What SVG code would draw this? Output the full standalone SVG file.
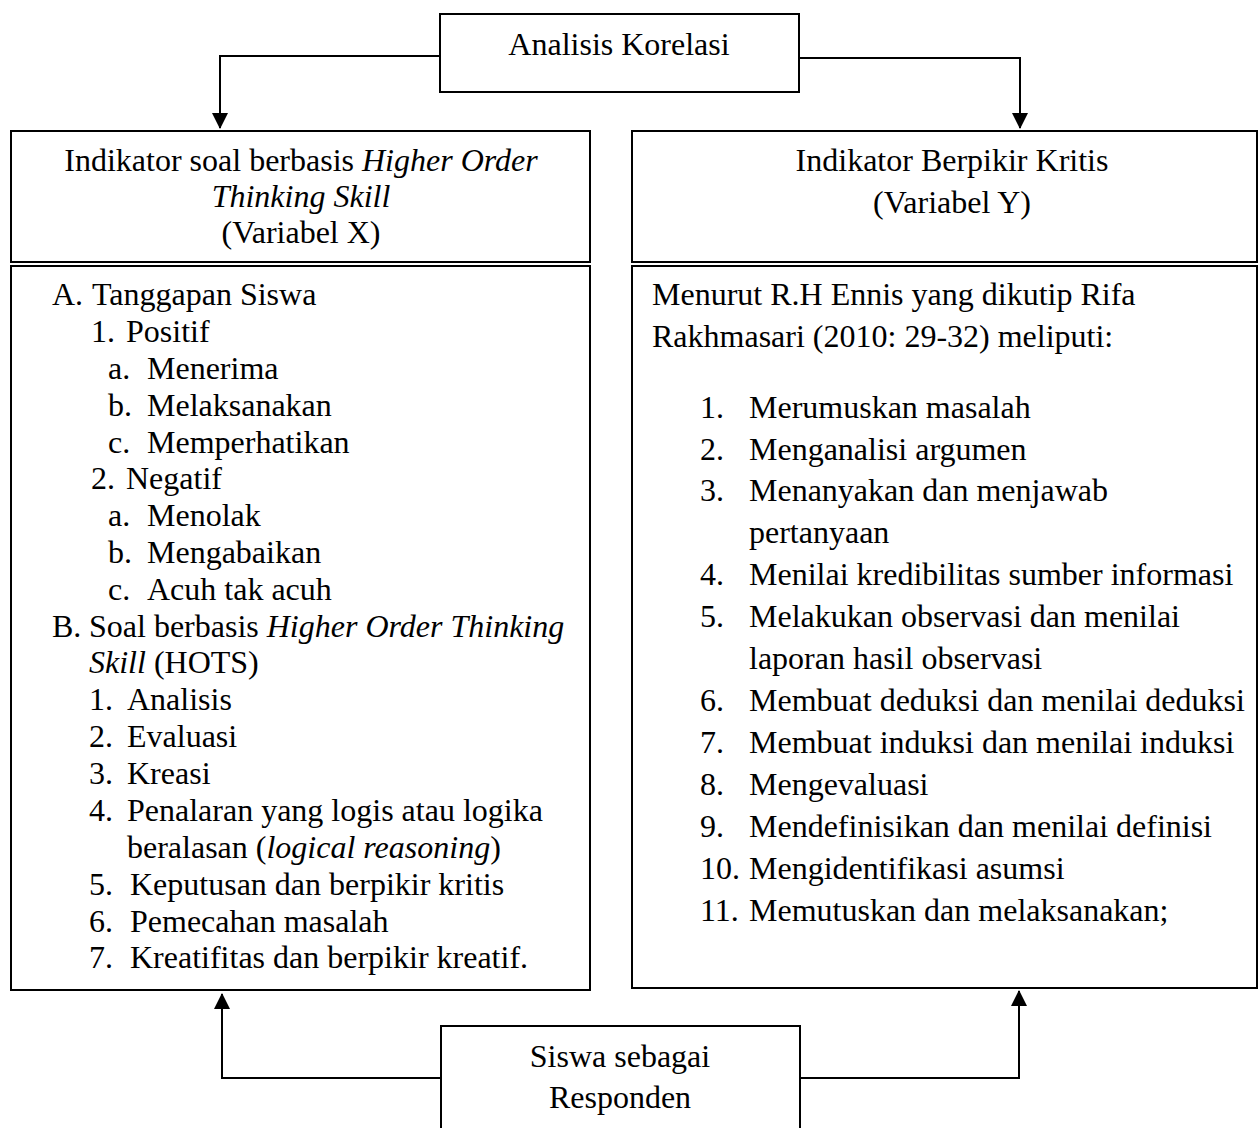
<svg xmlns="http://www.w3.org/2000/svg" width="1258" height="1128" viewBox="0 0 1258 1128">
<defs>
<style>
.box{fill:#fff;stroke:#000;stroke-width:2}
.t{font-family:"Liberation Serif","Times New Roman",serif;font-size:32px;fill:#000}
.c{text-anchor:middle}
.i{font-style:italic}
.con{fill:none;stroke:#000;stroke-width:2}
</style>
<marker id="ah" viewBox="0 0 16 16" refX="15" refY="8" markerWidth="16" markerHeight="16" markerUnits="userSpaceOnUse" orient="auto">
<path d="M0,0 L16,8 L0,16 Z" fill="#000"/>
</marker>
</defs>
<rect width="1258" height="1128" fill="#fff"/>

<g id="connectors">
<path class="con" d="M440,56 H220 V128" marker-end="url(#ah)"/>
<path class="con" d="M799,58 H1020 V128" marker-end="url(#ah)"/>
<path class="con" d="M441,1078 H222 V994" marker-end="url(#ah)"/>
<path class="con" d="M800,1078 H1019 V991" marker-end="url(#ah)"/>
</g>

<g id="analisis">
<rect class="box" x="440" y="14" width="359" height="78"/>
<text class="t c" x="619" y="55">Analisis Korelasi</text>
</g>

<g id="header-x">
<rect class="box" x="11" y="131" width="579" height="131"/>
<text class="t c" x="301" y="171">Indikator soal berbasis <tspan class="i">Higher Order</tspan></text>
<text class="t c i" x="301" y="207">Thinking Skill</text>
<text class="t c" x="301" y="243">(Variabel X)</text>
</g>

<g id="list-x">
<rect class="box" x="11" y="266" width="579" height="724"/>
<text class="t" x="52" y="305">A.</text><text class="t" x="92" y="305">Tanggapan Siswa</text>
<text class="t" x="91" y="342">1.</text><text class="t" x="126" y="342">Positif</text>
<text class="t" x="108" y="379">a.</text><text class="t" x="147" y="379">Menerima</text>
<text class="t" x="108" y="416">b.</text><text class="t" x="147" y="416">Melaksanakan</text>
<text class="t" x="108" y="453">c.</text><text class="t" x="147" y="453">Memperhatikan</text>
<text class="t" x="91" y="489">2.</text><text class="t" x="126" y="489">Negatif</text>
<text class="t" x="108" y="526">a.</text><text class="t" x="147" y="526">Menolak</text>
<text class="t" x="108" y="563">b.</text><text class="t" x="147" y="563">Mengabaikan</text>
<text class="t" x="108" y="600">c.</text><text class="t" x="147" y="600">Acuh tak acuh</text>
<text class="t" x="52" y="637">B.</text><text class="t" x="89" y="637">Soal berbasis <tspan class="i">Higher Order Thinking</tspan></text>
<text class="t" x="89" y="673"><tspan class="i">Skill</tspan> (HOTS)</text>
<text class="t" x="89" y="710">1.</text><text class="t" x="127" y="710">Analisis</text>
<text class="t" x="89" y="747">2.</text><text class="t" x="127" y="747">Evaluasi</text>
<text class="t" x="89" y="784">3.</text><text class="t" x="127" y="784">Kreasi</text>
<text class="t" x="89" y="821">4.</text><text class="t" x="127" y="821">Penalaran yang logis atau logika</text>
<text class="t" x="127" y="858">beralasan (<tspan class="i">logical reasoning</tspan>)</text>
<text class="t" x="89" y="895">5.</text><text class="t" x="130" y="895">Keputusan dan berpikir kritis</text>
<text class="t" x="89" y="932">6.</text><text class="t" x="130" y="932">Pemecahan masalah</text>
<text class="t" x="89" y="968">7.</text><text class="t" x="130" y="968">Kreatifitas dan berpikir kreatif.</text>
</g>

<g id="header-y">
<rect class="box" x="632" y="131" width="625" height="131"/>
<text class="t c" x="952" y="171">Indikator Berpikir Kritis</text>
<text class="t c" x="952" y="213">(Variabel Y)</text>
</g>

<g id="list-y">
<rect class="box" x="632" y="266" width="625" height="722"/>
<text class="t" x="652" y="305">Menurut R.H Ennis yang dikutip Rifa</text>
<text class="t" x="652" y="347">Rakhmasari (2010: 29-32) meliputi:</text>
<text class="t" x="700" y="418">1.</text><text class="t" x="749" y="418">Merumuskan masalah</text>
<text class="t" x="700" y="460">2.</text><text class="t" x="749" y="460">Menganalisi argumen</text>
<text class="t" x="700" y="501">3.</text><text class="t" x="749" y="501">Menanyakan dan menjawab</text>
<text class="t" x="749" y="543">pertanyaan</text>
<text class="t" x="700" y="585">4.</text><text class="t" x="749" y="585">Menilai kredibilitas sumber informasi</text>
<text class="t" x="700" y="627">5.</text><text class="t" x="749" y="627">Melakukan observasi dan menilai</text>
<text class="t" x="749" y="669">laporan hasil observasi</text>
<text class="t" x="700" y="711">6.</text><text class="t" x="749" y="711">Membuat deduksi dan menilai deduksi</text>
<text class="t" x="700" y="753">7.</text><text class="t" x="749" y="753">Membuat induksi dan menilai induksi</text>
<text class="t" x="700" y="795">8.</text><text class="t" x="749" y="795">Mengevaluasi</text>
<text class="t" x="700" y="837">9.</text><text class="t" x="749" y="837">Mendefinisikan dan menilai definisi</text>
<text class="t" x="700" y="879">10.</text><text class="t" x="749" y="879">Mengidentifikasi asumsi</text>
<text class="t" x="700" y="921">11.</text><text class="t" x="749" y="921">Memutuskan dan melaksanakan;</text>
</g>

<g id="responden">
<rect class="box" x="441" y="1026" width="359" height="110"/>
<text class="t c" x="620" y="1067">Siswa sebagai</text>
<text class="t c" x="620" y="1108">Responden</text>
</g>
</svg>
